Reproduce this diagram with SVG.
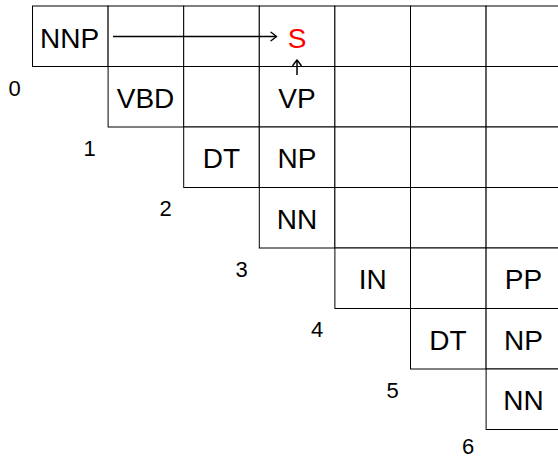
<svg xmlns="http://www.w3.org/2000/svg" width="558" height="459" viewBox="0 0 558 459">
<style>
.cell{fill:#fff;stroke:#000;stroke-width:1}
.lab{font-family:"Liberation Sans",Arial,sans-serif;font-size:28px;text-anchor:middle;fill:#000}
.red{fill:#ff0000}
.idx{font-family:"Liberation Sans",Arial,sans-serif;font-size:22px;text-anchor:middle;fill:#000}
.arr{fill:none;stroke:#000;stroke-width:1.5;marker-end:url(#to)}
</style>
<defs>
<marker id="to" markerUnits="userSpaceOnUse" markerWidth="12" markerHeight="12" viewBox="-8 -6 10 12" refX="0" refY="0" orient="auto">
<path d="M -5.5 -4.2 Q -1.5 -1.2 0 0 Q -1.5 1.2 -5.5 4.2" fill="none" stroke="#000" stroke-width="1.4" stroke-linecap="round"/>
</marker>
</defs>
<rect width="558" height="459" fill="#fff"/>
<g id="row0">
<g id="c0-0"><rect class="cell" x="32.5" y="6" width="75.6" height="60.5"/><text class="lab" x="69.5" y="47.5">NNP</text></g>
<g id="c0-1"><rect class="cell" x="108.1" y="6" width="75.6" height="60.5"/></g>
<g id="c0-2"><rect class="cell" x="183.7" y="6" width="75.6" height="60.5"/></g>
<g id="c0-3"><rect class="cell" x="259.3" y="6" width="75.6" height="60.5"/><text class="lab red" x="297" y="47.5">S</text></g>
<g id="c0-4"><rect class="cell" x="334.9" y="6" width="75.6" height="60.5"/></g>
<g id="c0-5"><rect class="cell" x="410.5" y="6" width="75.6" height="60.5"/></g>
<g id="c0-6"><rect class="cell" x="486.1" y="6" width="75.6" height="60.5"/></g>
</g>
<g id="row1">
<g id="c1-1"><rect class="cell" x="108.1" y="66.5" width="75.6" height="60.5"/><text class="lab" x="145.5" y="107.5">VBD</text></g>
<g id="c1-2"><rect class="cell" x="183.7" y="66.5" width="75.6" height="60.5"/></g>
<g id="c1-3"><rect class="cell" x="259.3" y="66.5" width="75.6" height="60.5"/><text class="lab" x="297" y="107.5">VP</text></g>
<g id="c1-4"><rect class="cell" x="334.9" y="66.5" width="75.6" height="60.5"/></g>
<g id="c1-5"><rect class="cell" x="410.5" y="66.5" width="75.6" height="60.5"/></g>
<g id="c1-6"><rect class="cell" x="486.1" y="66.5" width="75.6" height="60.5"/></g>
</g>
<g id="row2">
<g id="c2-2"><rect class="cell" x="183.7" y="127" width="75.6" height="60.5"/><text class="lab" x="221.5" y="168">DT</text></g>
<g id="c2-3"><rect class="cell" x="259.3" y="127" width="75.6" height="60.5"/><text class="lab" x="297" y="168">NP</text></g>
<g id="c2-4"><rect class="cell" x="334.9" y="127" width="75.6" height="60.5"/></g>
<g id="c2-5"><rect class="cell" x="410.5" y="127" width="75.6" height="60.5"/></g>
<g id="c2-6"><rect class="cell" x="486.1" y="127" width="75.6" height="60.5"/></g>
</g>
<g id="row3">
<g id="c3-3"><rect class="cell" x="259.3" y="187.5" width="75.6" height="60.5"/><text class="lab" x="297" y="228.5">NN</text></g>
<g id="c3-4"><rect class="cell" x="334.9" y="187.5" width="75.6" height="60.5"/></g>
<g id="c3-5"><rect class="cell" x="410.5" y="187.5" width="75.6" height="60.5"/></g>
<g id="c3-6"><rect class="cell" x="486.1" y="187.5" width="75.6" height="60.5"/></g>
</g>
<g id="row4">
<g id="c4-4"><rect class="cell" x="334.9" y="248" width="75.6" height="60.5"/><text class="lab" x="372.7" y="289">IN</text></g>
<g id="c4-5"><rect class="cell" x="410.5" y="248" width="75.6" height="60.5"/></g>
<g id="c4-6"><rect class="cell" x="486.1" y="248" width="75.6" height="60.5"/><text class="lab" x="523.5" y="289">PP</text></g>
</g>
<g id="row5">
<g id="c5-5"><rect class="cell" x="410.5" y="308.5" width="75.6" height="60.5"/><text class="lab" x="448" y="349.5">DT</text></g>
<g id="c5-6"><rect class="cell" x="486.1" y="308.5" width="75.6" height="60.5"/><text class="lab" x="523.5" y="349.5">NP</text></g>
</g>
<g id="row6">
<g id="c6-6"><rect class="cell" x="486.1" y="369" width="75.6" height="60.5"/><text class="lab" x="523.5" y="410">NN</text></g>
</g>
<g id="indices">
<text class="idx" x="14.5" y="95.5">0</text>
<text class="idx" x="89.5" y="156">1</text>
<text class="idx" x="165.5" y="216">2</text>
<text class="idx" x="241.5" y="276.5">3</text>
<text class="idx" x="317" y="337">4</text>
<text class="idx" x="392.5" y="398">5</text>
<text class="idx" x="468" y="454">6</text>
</g>
<g id="connectors">
<path class="arr" d="M 113 36.5 L 276.5 36.5"/>
<path class="arr" d="M 297 75 L 297 60"/>
</g>
</svg>
